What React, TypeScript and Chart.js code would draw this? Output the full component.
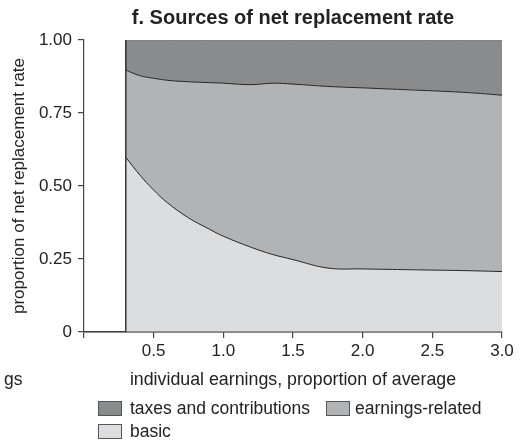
import React, { useEffect, useRef } from "react";
import { Chart, registerables } from "chart.js";

Chart.register(...registerables);

const FONT = "'Liberation Sans', Arial, Helvetica, sans-serif";

const earnings = [0.3, 0.4, 0.5, 0.6, 0.75, 0.9, 1.0, 1.2, 1.35, 1.5, 1.75, 2.0, 2.25, 2.5, 2.75, 3.0];
const basic = [0.598, 0.538, 0.486, 0.442, 0.391, 0.352, 0.328, 0.29, 0.266, 0.248, 0.219, 0.216, 0.214, 0.212, 0.21, 0.207];
const earningsRelated = [0.299, 0.34, 0.383, 0.42, 0.466, 0.502, 0.524, 0.557, 0.586, 0.601, 0.622, 0.62, 0.617, 0.614, 0.61, 0.604];
const taxesAndContributions = [0.103, 0.122, 0.131, 0.138, 0.143, 0.146, 0.148, 0.153, 0.148, 0.151, 0.159, 0.164, 0.169, 0.174, 0.18, 0.189];

const xTicks = [0, 0.5, 1.0, 1.5, 2.0, 2.5, 3.0];
const yTicks = [0, 0.25, 0.5, 0.75, 1.0];

const COLORS = {
  taxes: "#8a8b8d",
  earningsRelated: "#b1b4b7",
  basic: "#dcdddf",
};

const pts = (vals: number[]) => vals.map((v, i) => ({ x: earnings[i], y: v }));

const edgePlugin = {
  id: "edgeLine",
  afterDatasetsDraw(chart: any) {
    const { ctx, scales } = chart;
    const x = scales.x.getPixelForValue(earnings[0]);
    const y0 = scales.y.getPixelForValue(0);
    const y1 = scales.y.getPixelForValue(1);
    ctx.save();
    ctx.strokeStyle = "#1a1a1a";
    ctx.lineWidth = 1.3;
    ctx.beginPath();
    ctx.moveTo(x, y0);
    ctx.lineTo(x, y1);
    ctx.stroke();
    // re-stroke the x axis line over the fills
    ctx.strokeStyle = "#444";
    ctx.lineWidth = 1.2;
    ctx.beginPath();
    ctx.moveTo(scales.x.left, y0);
    ctx.lineTo(scales.x.right, y0);
    ctx.stroke();
    ctx.restore();
  },
};

export default function App() {
  const ref = useRef<HTMLCanvasElement | null>(null);

  useEffect(() => {
    if (!ref.current) return;
    Chart.defaults.font.family = FONT;
    const chart = new Chart(ref.current, {
      type: "line",
      data: {
        datasets: [
          {
            label: "basic",
            data: pts(basic),
            backgroundColor: COLORS.basic,
            borderColor: "#222",
            borderWidth: 1,
            fill: "origin",
            pointRadius: 0,
            tension: 0.4,
          },
          {
            label: "earnings-related",
            data: pts(earningsRelated),
            backgroundColor: COLORS.earningsRelated,
            borderColor: "#222",
            borderWidth: 1,
            fill: "-1",
            pointRadius: 0,
            tension: 0.4,
          },
          {
            label: "taxes and contributions",
            data: pts(taxesAndContributions),
            backgroundColor: COLORS.taxes,
            borderColor: "#7a7b7d",
            borderWidth: 1,
            fill: "-1",
            pointRadius: 0,
            tension: 0.4,
          },
        ],
      },
      options: {
        animation: false,
        responsive: false,
        layout: { padding: { left: 0, top: 40, right: 25, bottom: 0 } },
        plugins: { legend: { display: false }, tooltip: { enabled: false }, title: { display: false } },
        scales: {
          x: {
            type: "linear",
            min: 0,
            max: 3,
            afterFit: (s: any) => {
              s.height = 111;
            },
            afterBuildTicks: (s: any) => {
              s.ticks = xTicks.map((v) => ({ value: v }));
            },
            ticks: {
              color: "#222",
              font: { size: 17 },
              padding: 3,
              maxRotation: 0,
              autoSkip: false,
              callback: (v: any) => (Number(v) === 0 ? "" : Number(v).toFixed(1)),
            },
            grid: { drawOnChartArea: false, drawTicks: true, tickLength: 6, color: "#444", lineWidth: 1.2 },
            border: { color: "#444", width: 1.2 },
          },
          y: {
            stacked: true,
            min: 0,
            max: 1,
            afterFit: (s: any) => {
              s.width = 84;
            },
            afterBuildTicks: (s: any) => {
              s.ticks = yTicks.map((v) => ({ value: v }));
            },
            ticks: {
              color: "#222",
              font: { size: 17 },
              padding: 6,
              callback: (v: any) => (Number(v) === 0 ? "0" : Number(v).toFixed(2)),
            },
            grid: { drawOnChartArea: false, drawTicks: true, tickLength: 6, color: "#444", lineWidth: 1.2 },
            border: { color: "#444", width: 1.2 },
            title: {
              display: true,
              text: "proportion of net replacement rate",
              color: "#222",
              font: { size: 17 },
              padding: { top: 9, bottom: 0 },
            },
          },
        },
      },
      plugins: [edgePlugin],
    } as any);
    return () => chart.destroy();
  }, []);

  const txt: React.CSSProperties = {
    position: "absolute",
    fontFamily: FONT,
    fontSize: 17.5,
    color: "#222",
    whiteSpace: "nowrap",
    lineHeight: "20px",
  };
  const box = (c: string): React.CSSProperties => ({
    position: "absolute",
    width: 22,
    height: 13,
    background: c,
    border: "1px solid #555",
  });

  return (
    <div style={{ position: "fixed", left: 0, top: 0, width: 527, height: 443, background: "#fff" }}>
      <canvas ref={ref} width={527} height={443} style={{ position: "absolute", left: 0, top: 0 }} />
      <div style={{ ...txt, left: 84, width: 418, top: 7, textAlign: "center", fontWeight: "bold", fontSize: 20 }}>
        f. Sources of net replacement rate
      </div>
      <div style={{ ...txt, left: 84, width: 418, top: 369, textAlign: "center", fontSize: 17.8 }}>
        individual earnings, proportion of average
      </div>
      <div style={{ ...txt, left: 4, top: 369 }}>gs</div>
      <div style={{ ...box(COLORS.taxes), left: 98, top: 401 }} />
      <div style={{ ...txt, left: 130, top: 398 }}>taxes and contributions</div>
      <div style={{ ...box(COLORS.earningsRelated), left: 326, top: 401 }} />
      <div style={{ ...txt, left: 355, top: 398 }}>earnings-related</div>
      <div style={{ ...box(COLORS.basic), left: 98, top: 424 }} />
      <div style={{ ...txt, left: 130, top: 421 }}>basic</div>
    </div>
  );
}
